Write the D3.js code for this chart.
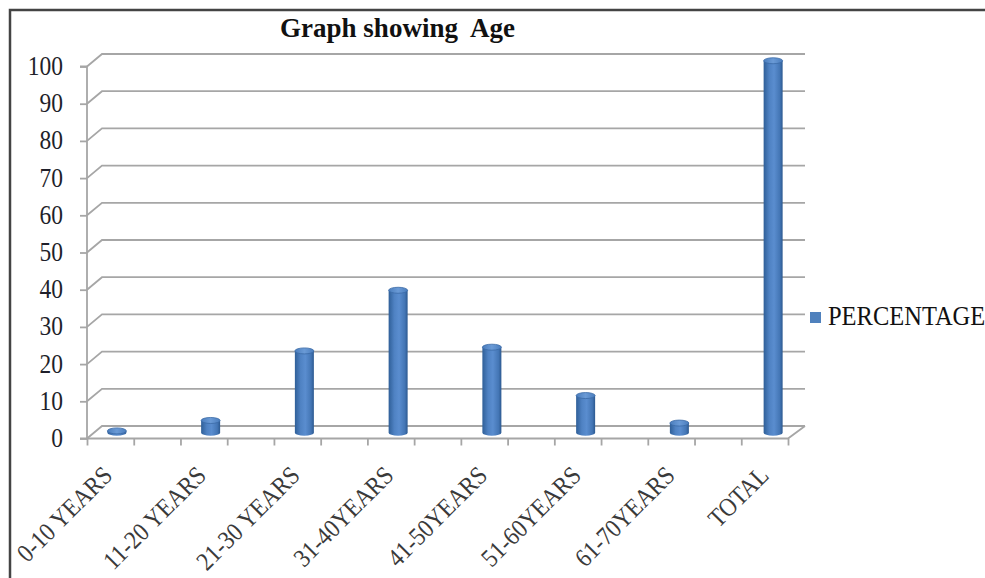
<!DOCTYPE html>
<html>
<head>
<meta charset="utf-8">
<script src="https://cdn.jsdelivr.net/npm/d3@7"></script>
<style>
  html, body { margin: 0; padding: 0; background: #fff; }
  svg { display: block; }
  text { font-family: "Liberation Serif", "Times New Roman", serif; }
</style>
</head>
<body>
<svg id="chart" width="985" height="578"></svg>
<script>
// ---- data ----
const categories = ["0-10 YEARS", "11-20 YEARS", "21-30 YEARS", "31-40YEARS", "41-50YEARS", "51-60YEARS", "61-70YEARS", "TOTAL"];
const percentages = [0.5, 3.3, 22, 38.3, 23, 10, 2.6, 100];
const yTickValues = [0, 10, 20, 30, 40, 50, 60, 70, 80, 90, 100];
const seriesName = "PERCENTAGE";
const chartTitle = "Graph showing  Age";

// ---- layout ----
const W = 985, H = 578;
const depthX = 15, depthY = -12.5;
const svg = d3.select("#chart");

svg.append("rect").attr("width", W).attr("height", H).attr("fill", "#fff");

const y = d3.scaleLinear().domain([0, 100]).range([438.5, 66.5]);
const x = d3.scaleBand().domain(categories).range([70, 820]);
const frontLeft = 87, frontRight = 788;
const tickX = d3.scaleLinear().domain([0, 15]).range([frontLeft, frontRight]);

// border
svg.append("path")
  .attr("d", `M10,${H} L10,10 L${W},10`)
  .attr("fill", "none").attr("stroke", "#444").attr("stroke-width", 2.5);

// gradients
const defs = svg.append("defs");
const gBody = defs.append("linearGradient").attr("id", "cyl").attr("x1", "0").attr("x2", "1").attr("y1", "0").attr("y2", "0");
[["0%", "#2f5f98"], ["30%", "#4f82c3"], ["55%", "#5a8dcf"], ["85%", "#4476b5"], ["100%", "#2c5990"]]
  .forEach(([o, c]) => gBody.append("stop").attr("offset", o).attr("stop-color", c));
const gTop = defs.append("linearGradient").attr("id", "cyltop").attr("x1", "0").attr("x2", "1");
[["0%", "#4a7dbd"], ["50%", "#6a9ad6"], ["100%", "#4a7dbd"]]
  .forEach(([o, c]) => gTop.append("stop").attr("offset", o).attr("stop-color", c));

const gridColor = "#a6a6a6";

// back wall gridlines with left-wall diagonals
const grid = svg.append("g");
yTickValues.forEach(v => {
  const yf = y(v), yb = y(v) + depthY;
  grid.append("path")
    .attr("d", `M${frontLeft},${yf} L${frontLeft + depthX},${yb} L${frontRight + depthX + 2},${yb}`)
    .attr("fill", "none").attr("stroke", gridColor).attr("stroke-width", 1.8);
});

// left axis line and ticks
const yAxis = d3.axisLeft(y).tickValues(yTickValues).tickSize(7).tickFormat("");
const yAxisG = svg.append("g").attr("transform", `translate(${frontLeft},0)`).call(yAxis);
yAxisG.selectAll("path, line").attr("stroke", gridColor).attr("stroke-width", 1.8);
yAxisG.select(".domain").attr("d", `M-7,${y(100)}H0V${y(0)}H-7`);

// y labels
svg.append("g").selectAll("text").data(yTickValues).join("text")
  .attr("transform", d => `translate(63,${y(d) + 8.5}) scale(1,1.12)`)
  .attr("text-anchor", "end")
  .attr("font-size", 23.5).attr("fill", "#1f1f2a")
  .text(d => d);

// floor front edge + right diagonal
svg.append("path")
  .attr("d", `M${frontLeft},${y(0)} L${frontRight},${y(0)} L${frontRight + depthX + 2},${y(0) + depthY}`)
  .attr("fill", "none").attr("stroke", gridColor).attr("stroke-width", 1.8);

// x ticks
const xAxis = d3.axisBottom(tickX).tickValues(d3.range(0, 16)).tickSize(7).tickFormat("");
const xAxisG = svg.append("g").attr("transform", `translate(0,${y(0)})`).call(xAxis);
xAxisG.select(".domain").remove();
xAxisG.selectAll("line").attr("stroke", gridColor).attr("stroke-width", 1.8);

// bars (cylinders)
const r = 9.5, ry = 3;
const base = y(0) + depthY / 2 + 0.5;
const bars = svg.append("g").selectAll("g").data(categories.map((c, i) => ({ c, v: percentages[i] }))).join("g");
bars.each(function (d) {
  const g = d3.select(this);
  const cx = x(d.c) + x.bandwidth() / 2;
  const top = y(d.v) + depthY / 2 + 0.5;
  g.append("path")
    .attr("d", `M${cx - r},${top} L${cx - r},${base} A${r},${ry} 0 0 0 ${cx + r},${base} L${cx + r},${top} Z`)
    .attr("fill", "url(#cyl)");
  g.append("ellipse")
    .attr("cx", cx).attr("cy", top).attr("rx", r).attr("ry", ry)
    .attr("fill", "url(#cyltop)").attr("stroke", "#3a6aa6").attr("stroke-width", 0.8);
});

// x labels
svg.append("g").selectAll("text").data(categories).join("text")
  .attr("transform", d => `translate(${x(d) + x.bandwidth() / 2 - 3},477) rotate(-45) scale(1,1.12)`)
  .attr("text-anchor", "end")
  .attr("font-size", 23).attr("fill", "#3a3a3a")
  .text(d => d);

// title
svg.append("text")
  .attr("x", 397.5).attr("y", 36.5)
  .attr("text-anchor", "middle")
  .attr("font-size", 27).attr("font-weight", "bold").attr("fill", "#111")
  .style("white-space", "pre")
  .text(chartTitle);

// legend
const legend = svg.append("g");
legend.append("rect").attr("x", 810).attr("y", 312).attr("width", 11).attr("height", 11).attr("fill", "#4f81bd");
legend.append("text").attr("transform", "translate(828,325) scale(1,1.15)")
  .attr("font-size", 24.5).attr("fill", "#111").text(seriesName);
</script>
</body>
</html>
